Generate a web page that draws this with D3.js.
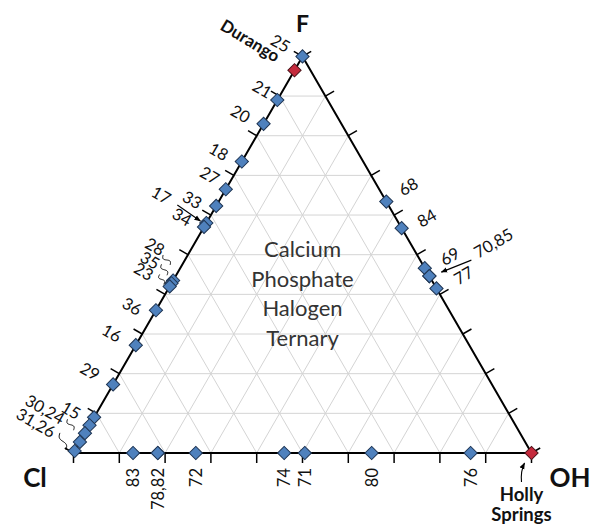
<!DOCTYPE html>
<html><head><meta charset="utf-8">
<script src="https://cdn.jsdelivr.net/npm/d3@7"></script>
<style>body{margin:0;background:#fff}svg{display:block}</style>
</head><body>
<svg id="chart" width="594" height="529"></svg>
<script>
// ---------- data ----------
const vertexNames = ["F", "Cl", "OH"];
const gridFractions = [0.1,0.2,0.3,0.4,0.5,0.6,0.7,0.8,0.9];
const tickFractions = [0,0.1,0.2,0.3,0.4,0.5,0.6,0.7,0.8,0.9,1];
// samples: mole fractions of F, Cl, OH
const sampleIds = ["25","Durango","21","20","18","27","33","17","34","28","35","23","36","16","29","15","30","24","31","26",
                   "83","78","82","72","74","71","80","76","Holly Springs",
                   "68","84","69","70","85","77"];
const fracF  = [1.00,0.965,0.89,0.83,0.735,0.665,0.623,0.58,0.57,0.435,0.428,0.42,0.36,0.272,0.173,0.09,0.07,0.05,0.028,0.005,
                0,0,0,0,0,0,0,0,0,
                0.634,0.567,0.466,0.446,0.446,0.415];
const fracCl = [0.00,0.035,0.11,0.17,0.265,0.335,0.377,0.42,0.43,0.565,0.572,0.58,0.64,0.728,0.827,0.91,0.93,0.95,0.972,0.995,
                0.87,0.816,0.816,0.733,0.54,0.495,0.349,0.133,0,
                0,0,0,0,0,0];
const fracOH = [0,0,0,0,0,0,0,0,0,0,0,0,0,0,0,0,0,0,0,0,
                0.13,0.184,0.184,0.267,0.46,0.505,0.651,0.867,1.0,
                0.366,0.433,0.534,0.554,0.554,0.585];
const referenceSamples = ["Durango","Holly Springs"];
const centerTitle = ["Calcium","Phosphate","Halogen","Ternary"];

// ---------- annotation layout ----------
const leftLabels = [
  {t:"25",a:"25",dx:-22,dy:-13},{t:"21",a:"21",dx:-15,dy:-11},{t:"20",a:"20",dx:-23,dy:-10},
  {t:"18",a:"18",dx:-23,dy:-10},{t:"27",a:"27",dx:-16,dy:-14},{t:"33",a:"33",dx:-24,dy:-6},
  {t:"34",a:"34",dx:-22,dy:-10},{t:"17",a:"17",dx:-45,dy:-28},
  {t:"28",a:"28",dx:-18,dy:-34},{t:"35",a:"35",dx:-21.5,dy:-23},{t:"23",a:"23",dx:-26,dy:-15},
  {t:"36",a:"36",dx:-24,dy:-4},{t:"16",a:"16",dx:-24,dy:-12},{t:"29",a:"29",dx:-23,dy:-13},
  {t:"15",a:"15",dx:-23,dy:-7},{t:"30,24",a:"30",dx:-44.5,dy:-16},{t:"31,26",a:"31",dx:-44,dy:-19}
];
const rightLabels = [
  {t:"68",a:"68",dx:22,dy:-15},{t:"84",a:"84",dx:25,dy:-10},{t:"69",a:"69",dx:25,dy:-12},
  {t:"70,85",a:"70",dx:64,dy:-33},{t:"77",a:"77",dx:27,dy:-13}
];
const bottomLabels = [
  {t:"83",a:"83"},{t:"78,82",a:"78"},{t:"72",a:"72"},{t:"74",a:"74"},
  {t:"71",a:"71"},{t:"80",a:"80"},{t:"76",a:"76"}
];
const squiggles = [
  {a:"28",p0:[-10,-25.5],p1:[-3,-15.5]},
  {a:"35",p0:[-10,-19],p1:[-4.5,-8]},
  {a:"23",p0:[-10,-12],p1:[-6,-2]},
  {a:"30",p0:[-22,-6],p1:[-16,5]},
  {a:"31",p0:[-20,-9],p1:[-14,8]}
];

// ---------- drawing ----------
const svg = d3.select("#chart");
const x = d3.scaleLinear().domain([0,1]).range([73.5,531.5]);
const y = d3.scaleLinear().domain([0,1]).range([453,56.4]);
const proj = (f,cl,oh) => [x(oh + f/2), y(f)];

const samples = sampleIds.map((id,i)=>({id, f:fracF[i], cl:fracCl[i], oh:fracOH[i], ref:referenceSamples.includes(id)}));
samples.forEach(s=>{ const p=proj(s.f,s.cl,s.oh); s.x=p[0]; s.y=p[1]; });
const byId = Object.fromEntries(samples.map(s=>[s.id,s]));

const defs = svg.append("defs");
defs.append("marker").attr("id","arrow").attr("viewBox","0 0 10 10").attr("refX",9).attr("refY",5)
  .attr("markerWidth",6).attr("markerHeight",6).attr("orient","auto")
  .append("path").attr("d","M0,1 L10,5 L0,9 Z").attr("fill","#000");

// grid
const grid = svg.append("g").attr("stroke","#d4d4d4").attr("stroke-width",1);
gridFractions.forEach(g=>{
  let a=proj(g,1-g,0), b=proj(g,0,1-g);
  grid.append("line").attr("x1",a[0]).attr("y1",a[1]).attr("x2",b[0]).attr("y2",b[1]);
  a=proj(0,1-g,g); b=proj(1-g,0,g);
  grid.append("line").attr("x1",a[0]).attr("y1",a[1]).attr("x2",b[0]).attr("y2",b[1]);
  a=proj(0,g,1-g); b=proj(1-g,g,0);
  grid.append("line").attr("x1",a[0]).attr("y1",a[1]).attr("x2",b[0]).attr("y2",b[1]);
});

// ticks
const ticks = svg.append("g").attr("stroke","#000").attr("stroke-width",1.5);
const TL = 10;
const c30 = Math.cos(Math.PI/6), s30 = Math.sin(Math.PI/6);
tickFractions.forEach(t=>{
  let p = proj(0,1-t,t);
  ticks.append("line").attr("x1",p[0]).attr("y1",p[1]).attr("x2",p[0]).attr("y2",p[1]+TL);
  p = proj(t,1-t,0);
  ticks.append("line").attr("x1",p[0]).attr("y1",p[1]).attr("x2",p[0]-TL*c30).attr("y2",p[1]-TL*s30);
  p = proj(t,0,1-t);
  ticks.append("line").attr("x1",p[0]).attr("y1",p[1]).attr("x2",p[0]+TL*c30).attr("y2",p[1]-TL*s30);
});

// triangle edges
const vF=proj(1,0,0), vCl=proj(0,1,0), vOH=proj(0,0,1);
svg.append("path").attr("d",`M${vCl}L${vOH}L${vF}Z`).attr("fill","none")
  .attr("stroke","#000").attr("stroke-width",2).attr("stroke-linejoin","miter");

// center title
svg.append("g").selectAll("text").data(centerTitle).join("text")
  .attr("x",x(0.5)).attr("y",(d,i)=>257+i*29.5).attr("text-anchor","middle")
  .attr("font-family","Lato, sans-serif").attr("font-size",22).attr("fill","#333").text(d=>d);

// markers
const sym = d3.symbol().type(d3.symbolSquare).size(88);
svg.append("g").selectAll("path").data(samples).join("path")
  .attr("d",sym).attr("transform",d=>`translate(${d.x},${d.y}) rotate(45)`)
  .attr("fill",d=>d.ref?"#c52a3c":"#4f81bd").attr("stroke",d=>d.ref?"#4a1218":"#1f3553").attr("stroke-width",1);

// labels
const lab = svg.append("g").attr("font-family","Lato, sans-serif").attr("font-size",16.5).attr("fill","#111");
leftLabels.forEach(l=>{
  const s=byId[l.a];
  lab.append("text").attr("transform",`translate(${s.x+l.dx},${s.y+l.dy}) rotate(30)`)
    .attr("text-anchor","middle").attr("dominant-baseline","central").text(l.t);
});
rightLabels.forEach(l=>{
  const s=byId[l.a];
  lab.append("text").attr("transform",`translate(${s.x+l.dx},${s.y+l.dy}) rotate(-30)`)
    .attr("text-anchor","middle").attr("dominant-baseline","central").text(l.t);
});
bottomLabels.forEach(l=>{
  const s=byId[l.a];
  lab.append("text").attr("transform",`translate(${s.x},${s.y+15}) rotate(-90)`)
    .attr("text-anchor","end").attr("dominant-baseline","central").text(l.t);
});

// squiggles
const sq = svg.append("g").attr("fill","none").attr("stroke","#000").attr("stroke-width",0.9);
squiggles.forEach(q=>{
  const s=byId[q.a];
  const x0=s.x+q.p0[0], y0=s.y+q.p0[1], x1=s.x+q.p1[0], y1=s.y+q.p1[1];
  const dxl=x1-x0, dyl=y1-y0, len=Math.hypot(dxl,dyl), nx=-dyl/len, ny=dxl/len;
  const pts=d3.range(0,1.0001,0.05).map(t=>{const o=2.2*Math.sin(2*Math.PI*t); return [x0+dxl*t+nx*o, y0+dyl*t+ny*o];});
  sq.append("path").attr("d",d3.line().curve(d3.curveBasis)(pts));
});

// arrows
const ar = svg.append("g").attr("stroke","#000").attr("stroke-width",1.1).attr("fill","none");
{
  const s=byId["17"];
  ar.append("line").attr("x1",s.x-29).attr("y1",s.y-18).attr("x2",s.x-6).attr("y2",s.y-2).attr("marker-end","url(#arrow)");
  const r=byId["70"];
  ar.append("line").attr("x1",r.x+42).attr("y1",r.y-16).attr("x2",r.x+12).attr("y2",r.y-4).attr("marker-end","url(#arrow)");
  const h=byId["Holly Springs"];
  ar.append("path").attr("d",`M${h.x-10},${h.y+29} Q${h.x-11},${h.y+18} ${h.x-7},${h.y+10}`).attr("marker-end","url(#arrow)");
}

// vertex + reference labels
const bold = svg.append("g").attr("font-family","Lato, sans-serif").attr("font-weight","bold").attr("fill","#111");
bold.append("text").attr("x",vF[0]).attr("y",32).attr("text-anchor","middle").attr("font-size",23).text(vertexNames[0]);
bold.append("text").attr("x",35).attr("y",487).attr("text-anchor","middle").attr("font-size",26).text(vertexNames[1]);
bold.append("text").attr("x",570).attr("y",487).attr("text-anchor","middle").attr("font-size",26).text(vertexNames[2]);
{
  const d=byId["Durango"];
  bold.append("text").attr("transform",`translate(${d.x-44},${d.y-30}) rotate(31)`)
    .attr("text-anchor","middle").attr("dominant-baseline","central").attr("font-size",17).text("Durango");
  const h=byId["Holly Springs"];
  bold.append("text").attr("x",h.x-10).attr("y",501).attr("text-anchor","middle").attr("font-size",18.5).text("Holly");
  bold.append("text").attr("x",h.x-10).attr("y",521).attr("text-anchor","middle").attr("font-size",18.5).text("Springs");
}
</script>
</body></html>
